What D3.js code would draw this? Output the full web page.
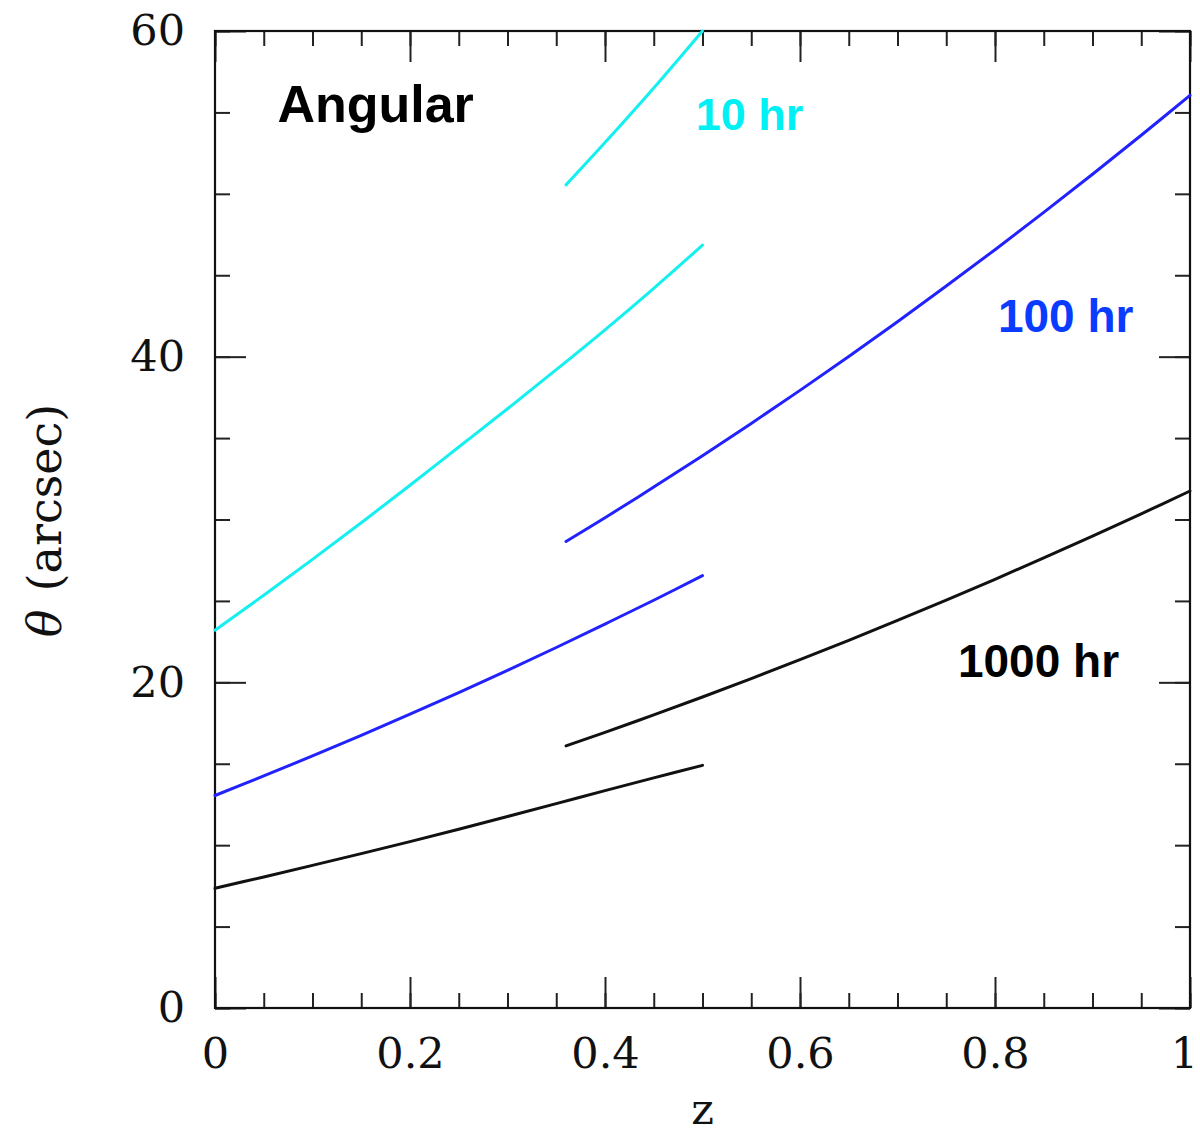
<!DOCTYPE html>
<html>
<head>
<meta charset="utf-8">
<script src="https://cdn.jsdelivr.net/npm/d3@7"></script>
<style>
  html, body { margin: 0; padding: 0; background: #fff; }
  svg { display: block; }
</style>
</head>
<body>
<svg id="chart" width="1200" height="1133"></svg>
<script>
// Redshift grid for the low-z and high-z branches
const zLow  = [0, 0.05, 0.1, 0.15, 0.2, 0.25, 0.3, 0.35, 0.4, 0.45, 0.5];
const zHigh = [0.36, 0.4, 0.45, 0.5, 0.55, 0.6, 0.65, 0.7, 0.75, 0.8, 0.85, 0.9, 0.95, 1.0];
const zHigh10 = [0.36, 0.4, 0.45, 0.5];

// Angular size (arcsec) per exposure time
const theta10Low    = [23.2, 25.35, 27.55, 29.8, 32.1, 34.45, 36.8, 39.2, 41.65, 44.2, 46.85];
const theta10High   = [50.55, 53.15, 56.5, 60.0];
const theta100Low   = [13.05, 14.25, 15.48, 16.74, 18.04, 19.37, 20.74, 22.14, 23.58, 25.04, 26.55];
const theta100High  = [28.65, 30.11, 31.99, 33.92, 35.9, 37.93, 40.01, 42.15, 44.34, 46.57, 48.86, 51.2, 53.6, 56.05];
const theta1000Low  = [7.35, 8.05, 8.76, 9.48, 10.22, 10.98, 11.76, 12.55, 13.35, 14.13, 14.9];
const theta1000High = [16.1, 16.93, 18.0, 19.1, 20.23, 21.39, 22.58, 23.8, 25.05, 26.33, 27.64, 28.98, 30.35, 31.75];

// Axis ticks
const xMajor = [0, 0.2, 0.4, 0.6, 0.8, 1];
const xMinor = d3.range(0, 1.0001, 0.05);
const yMajor = [0, 20, 40, 60];
const yMinor = d3.range(0, 60.001, 5);

// Curve labels
const labels = [
  { text: "Angular", z: 0.064, t: 54.4, color: "#000000", size: 52 },
  { text: "10 hr",   z: 0.493, t: 53.9, color: "#00f0f4", size: 45 },
  { text: "100 hr",  z: 0.803, t: 41.5, color: "#0a3cff", size: 46 },
  { text: "1000 hr", z: 0.762, t: 20.3, color: "#000000", size: 46 }
];

const series = [
  { z: zLow,    t: theta10Low,    color: "#14f0f0" },
  { z: zHigh10, t: theta10High,   color: "#14f0f0" },
  { z: zLow,    t: theta100Low,   color: "#2222ff" },
  { z: zHigh,   t: theta100High,  color: "#2222ff" },
  { z: zLow,    t: theta1000Low,  color: "#111111" },
  { z: zHigh,   t: theta1000High, color: "#111111" }
];

const plotLeft = 215, plotRight = 1190, plotTop = 31, plotBottom = 1008;
const x = d3.scaleLinear().domain([0, 1]).range([plotLeft, plotRight]);
const y = d3.scaleLinear().domain([0, 60]).range([plotBottom, plotTop]);

const svg = d3.select("#chart");
svg.append("rect").attr("width", 1200).attr("height", 1133).attr("fill", "#fff");

const tickFont = "'DejaVu Serif', serif";
const majorLen = 31, minorLen = 15;

function styleAxis(g) {
  g.select(".domain").remove();
  g.selectAll(".tick line").attr("stroke", "#222").attr("stroke-width", 2);
  g.selectAll(".tick text")
    .attr("font-family", tickFont)
    .attr("font-size", 43)
    .attr("fill", "#111");
}

// Bottom axis: minor then major with labels
svg.append("g").attr("transform", `translate(0,${plotBottom})`)
  .call(d3.axisBottom(x).tickValues(xMinor).tickSize(-minorLen).tickFormat(""))
  .call(styleAxis);
const xAxisMajor = svg.append("g").attr("transform", `translate(0,${plotBottom})`)
  .call(d3.axisBottom(x).tickValues(xMajor).tickSize(-majorLen).tickPadding(29).tickFormat(d3.format("~g")))
  .call(styleAxis);
// keep the last label inside the page edge
xAxisMajor.selectAll(".tick text").filter(d => d === 1).attr("dx", -6);

// Top axis: ticks only
svg.append("g").attr("transform", `translate(0,${plotTop})`)
  .call(d3.axisTop(x).tickValues(xMinor).tickSize(-minorLen).tickFormat(""))
  .call(styleAxis);
svg.append("g").attr("transform", `translate(0,${plotTop})`)
  .call(d3.axisTop(x).tickValues(xMajor).tickSize(-majorLen).tickFormat(""))
  .call(styleAxis);

// Left axis with labels
svg.append("g").attr("transform", `translate(${plotLeft},0)`)
  .call(d3.axisLeft(y).tickValues(yMinor).tickSize(-minorLen).tickFormat(""))
  .call(styleAxis);
svg.append("g").attr("transform", `translate(${plotLeft},0)`)
  .call(d3.axisLeft(y).tickValues(yMajor).tickSize(-majorLen).tickPadding(30).tickFormat(d3.format("d")))
  .call(styleAxis);

// Right axis: ticks only
svg.append("g").attr("transform", `translate(${plotRight},0)`)
  .call(d3.axisRight(y).tickValues(yMinor).tickSize(-minorLen).tickFormat(""))
  .call(styleAxis);
svg.append("g").attr("transform", `translate(${plotRight},0)`)
  .call(d3.axisRight(y).tickValues(yMajor).tickSize(-majorLen).tickFormat(""))
  .call(styleAxis);

// Frame
svg.append("rect")
  .attr("x", plotLeft).attr("y", plotTop)
  .attr("width", plotRight - plotLeft).attr("height", plotBottom - plotTop)
  .attr("fill", "none").attr("stroke", "#111").attr("stroke-width", 2.2);

// Curves
const line = d3.line()
  .x(d => x(d[0]))
  .y(d => y(d[1]))
  .curve(d3.curveCatmullRom.alpha(0.5));

svg.append("g").selectAll("path")
  .data(series)
  .join("path")
  .attr("d", s => line(s.z.map((z, i) => [z, s.t[i]])))
  .attr("fill", "none")
  .attr("stroke", s => s.color)
  .attr("stroke-width", 3)
  .attr("stroke-linecap", "round");

// Labels inside the plot
svg.append("g").selectAll("text")
  .data(labels)
  .join("text")
  .attr("x", d => x(d.z))
  .attr("y", d => y(d.t))
  .attr("font-family", "'Liberation Sans', Arial, sans-serif")
  .attr("font-weight", "bold")
  .attr("font-size", d => d.size)
  .attr("fill", d => d.color)
  .text(d => d.text);

// Axis titles
svg.append("text")
  .attr("x", x(0.5)).attr("y", 1124)
  .attr("text-anchor", "middle")
  .attr("font-family", tickFont)
  .attr("font-size", 43)
  .attr("fill", "#111")
  .text("z");

const yTitle = svg.append("text")
  .attr("transform", `translate(61,${(plotBottom + plotTop) / 2 + 1}) rotate(-90)`)
  .attr("text-anchor", "middle")
  .attr("font-family", tickFont)
  .attr("font-size", 46)
  .attr("fill", "#111");
yTitle.append("tspan").attr("font-style", "italic").text("θ");
yTitle.append("tspan").attr("dx", 18).text("(arcsec)");
</script>
</body>
</html>
